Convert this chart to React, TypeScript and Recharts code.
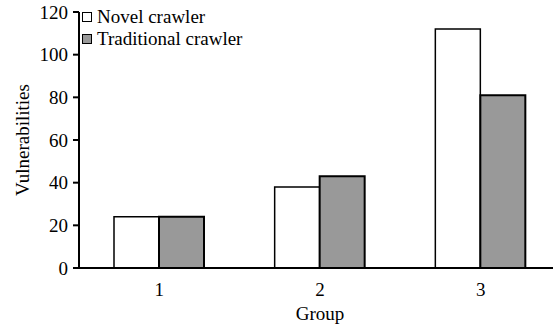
import React from 'react';
import { BarChart, Bar, XAxis, YAxis, Legend, Label } from 'recharts';

const groups = ['1', '2', '3'];
const novelCrawler = [24, 38, 112];
const traditionalCrawler = [24, 43, 81];
const yTicks = [0, 20, 40, 60, 80, 100, 120];

const data = groups.map((g, i) => ({
  group: g,
  novel: novelCrawler[i],
  traditional: traditionalCrawler[i],
}));

const FONT = '"Liberation Serif", "Times New Roman", serif';

function LegendBox({ payload }: any) {
  return (
    <div style={{ fontFamily: FONT, fontSize: 19, color: '#000' }}>
      {(payload || []).map((p: any) => (
        <div key={p.value} style={{ display: 'flex', alignItems: 'center', height: 22 }}>
          <span
            style={{
              width: 8,
              height: 8,
              border: '1.5px solid #000',
              background: p.color,
              marginRight: 5,
              display: 'inline-block',
            }}
          />
          <span>{p.value}</span>
        </div>
      ))}
    </div>
  );
}

function YTitle({ viewBox }: any) {
  const cx = 22;
  const cy = viewBox.y + viewBox.height / 2;
  return (
    <text
      x={cx}
      y={cy}
      transform={`rotate(-90 ${cx} ${cy})`}
      textAnchor="middle"
      dominantBaseline="central"
      fontFamily={FONT}
      fontSize={19}
      fill="#000"
    >
      Vulnerabilities
    </text>
  );
}

export default function App() {
  return (
    <div style={{ position: 'absolute', left: 0, top: 0, width: 553, height: 328, overflow: 'hidden', background: '#fff' }}>
      <BarChart
        width={561}
        height={328}
        data={data}
        margin={{ top: 12, right: 0, left: 0, bottom: 0 }}
        barSize={45}
        barGap={0}
      >
        <XAxis
          dataKey="group"
          height={60}
          axisLine={{ stroke: '#000', strokeWidth: 2 }}
          tickLine={false}
          tickSize={0}
          tickMargin={15}
          tick={{ fill: '#000', fontFamily: FONT, fontSize: 19 }}
        >
          <Label value="Group" position="insideBottom" offset={8} fill="#000" fontFamily={FONT} fontSize={19} />
        </XAxis>
        <YAxis
          width={79}
          domain={[0, 120]}
          ticks={yTicks}
          axisLine={{ stroke: '#000', strokeWidth: 2 }}
          tickLine={{ stroke: '#000', strokeWidth: 2 }}
          tickSize={6}
          tickMargin={5}
          tick={{ fill: '#000', fontFamily: FONT, fontSize: 19 }}
          label={<YTitle />}
        />
        <Legend
          layout="horizontal"
          verticalAlign="middle"
          align="center"
          content={<LegendBox />}
          wrapperStyle={{ left: 82, top: 6, width: 'auto', height: 'auto' }}
        />
        <Bar
          dataKey="novel"
          name="Novel crawler"
          fill="#ffffff"
          stroke="#000"
          strokeWidth={1.5}
          isAnimationActive={false}
        />
        <Bar
          dataKey="traditional"
          name="Traditional crawler"
          fill="#999999"
          stroke="#000"
          strokeWidth={2}
          isAnimationActive={false}
        />
      </BarChart>
    </div>
  );
}
